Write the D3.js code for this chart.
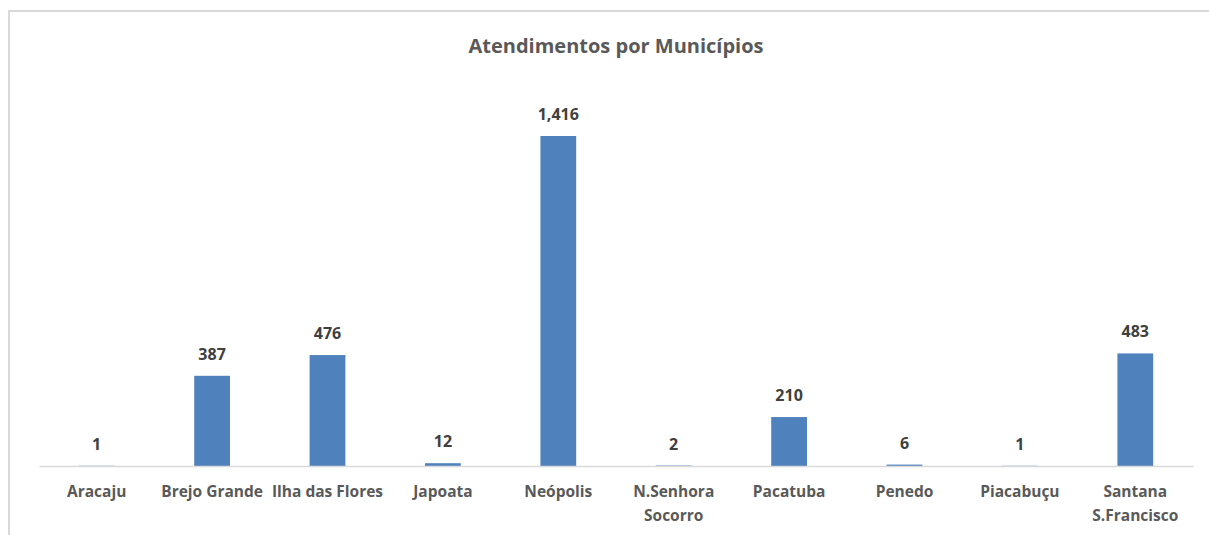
<!DOCTYPE html>
<html>
<head>
<meta charset="utf-8">
<script src="https://cdn.jsdelivr.net/npm/d3@7"></script>
<style>
    body { margin: 0; background: #fff; }
    svg { display: block; }
    text { font-family: "Open Sans", Lato, sans-serif; font-weight: bold; }
</style>
</head>
<body>
<div id="chart"></div>
<script>
// data
var municipios = ["Aracaju", "Brejo Grande", "Ilha das Flores", "Japoata", "Neópolis",
                  "N.Senhora Socorro", "Pacatuba", "Penedo", "Piacabuçu", "Santana S.Francisco"];
var atendimentos = [1, 387, 476, 12, 1416, 2, 210, 6, 1, 483];
// how the long names wrap onto two lines
var labelLines = [["Aracaju"], ["Brejo Grande"], ["Ilha das Flores"], ["Japoata"], ["Neópolis"],
                  ["N.Senhora", "Socorro"], ["Pacatuba"], ["Penedo"], ["Piacabuçu"], ["Santana", "S.Francisco"]];
var chartTitle = "Atendimentos por Municípios";

function init() {
    var width = 1209;
    var height = 535;
    var left = 39, right = 1193;
    var baseline = 466;

    var svg = d3.select("#chart")
                .append("svg")
                .attr("width", width)
                .attr("height", height);

    // chart frame (only top and left edges show in the crop)
    svg.append("line")
        .attr("x1", 9).attr("x2", width).attr("y1", 11).attr("y2", 11)
        .attr("stroke", "#d9d9d9").attr("stroke-width", 2);
    svg.append("line")
        .attr("x1", 9).attr("x2", 9).attr("y1", 10).attr("y2", height)
        .attr("stroke", "#d9d9d9").attr("stroke-width", 2);

    var xScale = d3.scaleBand()
                    .domain(municipios)
                    .range([left, right])
                    .paddingInner(0.69)
                    .paddingOuter(0.345);

    var yScale = d3.scaleLinear()
                    .domain([0, d3.max(atendimentos)])
                    .range([baseline, 136]);

    // title
    svg.append("text")
        .attr("x", 616)
        .attr("y", 53)
        .attr("text-anchor", "middle")
        .attr("fill", "#595959")
        .style("font-size", "20px")
        .text(chartTitle);

    // bars
    svg.selectAll("rect.bar")
        .data(atendimentos)
        .enter()
        .append("rect")
        .attr("class", "bar")
        .attr("x", function(d, i) { return xScale(municipios[i]); })
        .attr("y", function(d) { return yScale(d); })
        .attr("width", xScale.bandwidth())
        .attr("height", function(d) { return baseline - yScale(d); })
        .attr("fill", "#4f81bd");

    // x axis line
    var xAxis = d3.axisBottom(xScale).tickSize(0).tickFormat("");
    var gx = svg.append("g")
        .attr("transform", "translate(0," + baseline + ")")
        .call(xAxis);
    gx.select(".domain").attr("stroke", "#d9d9d9").attr("stroke-width", 1.5);

    // value labels
    var fmt = d3.format(",");
    svg.selectAll("text.value")
        .data(atendimentos)
        .enter()
        .append("text")
        .attr("class", "value")
        .attr("x", function(d, i) { return xScale(municipios[i]) + xScale.bandwidth() / 2; })
        .attr("y", function(d) { return yScale(d) - 16; })
        .attr("text-anchor", "middle")
        .attr("fill", "#404040")
        .style("font-size", "16px")
        .text(function(d) { return fmt(d); });

    // category labels
    var cats = svg.selectAll("text.cat")
        .data(municipios)
        .enter()
        .append("text")
        .attr("class", "cat")
        .attr("text-anchor", "middle")
        .attr("fill", "#595959")
        .style("font-size", "15.5px")
        .attr("transform", function(d) {
            return "translate(" + (xScale(d) + xScale.bandwidth() / 2) + "," + (baseline + 31) + ")";
        });
    cats.selectAll("tspan")
        .data(function(d, i) { return labelLines[i]; })
        .enter()
        .append("tspan")
        .attr("x", 0)
        .attr("dy", function(d, j) { return j == 0 ? 0 : 24; })
        .text(function(d) { return d; });
}

window.onload = init;
</script>
</body>
</html>
